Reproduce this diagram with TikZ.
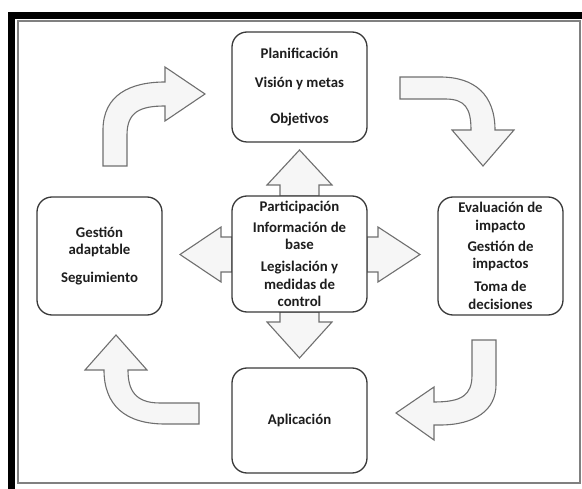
\documentclass[tikz,border=0pt]{standalone}
\usepackage{fontspec}
\setmainfont{Carlito}
\definecolor{arrowfill}{HTML}{F6F6F6}
\definecolor{arrowline}{HTML}{6F6F6F}
\definecolor{boxline}{HTML}{3A3A3A}
\definecolor{txt}{HTML}{1E1E1E}
\tikzset{
  stagebox/.style={draw=boxline, line width=1.3pt, rounded corners=15pt, fill=white, align=center, inner sep=0pt, text=txt, font=\bfseries\fontsize{14.8}{17.5}\selectfont},
  blockarrow/.style={draw=arrowline, fill=arrowfill, line width=1.1pt, line join=miter},
}

\begin{document}
\begin{tikzpicture}[x=1pt, y=-1pt]
			%%%%% START %%%%%
			\useasboundingbox (0,0) rectangle (582,489);
			\clip (0,0) rectangle (582,489);
			
			\draw[line width=7pt] (11.5, 15.5) rectangle (595, 496);
			\draw[line width=2pt, color=black!50] (17.5, 21.5) rectangle (580, 483.5);
			
			% arrows round the centre
			\draw[blockarrow] (280, 196) -- (280, 185) -- (267, 185) -- (299.5, 150) -- (332, 185) -- (319, 185) -- (319, 196) -- cycle;
			\draw[blockarrow] (280, 312) -- (280, 322) -- (267, 322) -- (299.5, 358) -- (332, 322) -- (319, 322) -- (319, 312) -- cycle;
			\draw[blockarrow] (232, 237) -- (221, 237) -- (221, 227) -- (180, 254.5) -- (221, 282) -- (221, 272) -- (232, 272) -- cycle;
			\draw[blockarrow] (367, 237) -- (378, 237) -- (378, 227) -- (420, 254.5) -- (378, 282) -- (378, 272) -- (367, 272) -- cycle;
			
			% curved arrows of the cycle
			\draw[blockarrow] (103, 166) -- (103, 130) .. controls (103, 95) and (130, 82) .. (165, 82) -- (165, 67) -- (205, 94) -- (165, 121) -- (165, 106) .. controls (140, 106) and (127, 112) .. (127, 135) -- (127, 166) -- cycle;
			\draw[blockarrow] (400, 77) -- (440, 77) .. controls (475, 77) and (495, 95) .. (495, 130) -- (514, 130) -- (483, 166) -- (452, 130) -- (471, 130) .. controls (471, 108) and (465, 99) .. (445, 99) -- (400, 99) -- cycle;
			\draw[blockarrow] (472, 340) -- (496, 340) -- (496, 385) .. controls (496, 410) and (475, 425) .. (440, 425) -- (434, 425) -- (434, 440) -- (396, 413) -- (434, 387) -- (434, 402) .. controls (462, 402) and (472, 395) .. (472, 375) -- cycle;
			\draw[blockarrow] (199, 403) -- (160, 403) .. controls (135, 403) and (128, 390) .. (128, 370) -- (147, 370) -- (116, 335) -- (85, 370) -- (104, 370) .. controls (104, 405) and (125, 424) .. (165, 424) -- (199, 424) -- cycle;
			
			% stages
			\node[stagebox, minimum width=135pt, minimum height=110pt] (plan) at (299.5, 87) {Planificación\\[11.5pt]Visión y metas\\[18.5pt]Objetivos};
			\node[stagebox, minimum width=135pt, minimum height=116pt] (ctr) at (299.5, 254) {Participación\\[3.5pt]Información de\\base\\[4.5pt]Legislación y\\medidas de\\control};
			\node[stagebox, minimum width=125pt, minimum height=118pt] (gest) at (99.5, 256) {Gestión\\adaptable\\[10.5pt]Seguimiento};
			\node[stagebox, minimum width=125pt, minimum height=118pt] (eval) at (500.5, 256) {Evaluación de\\impacto\\[3.5pt]Gestión de\\impactos\\[5.5pt]Toma de\\decisiones};
			\node[stagebox, minimum width=135pt, minimum height=105pt] (aplic) at (299.5, 420.5) {Aplicación};
			
			%%%%% END %%%%%
\end{tikzpicture}
\end{document}
